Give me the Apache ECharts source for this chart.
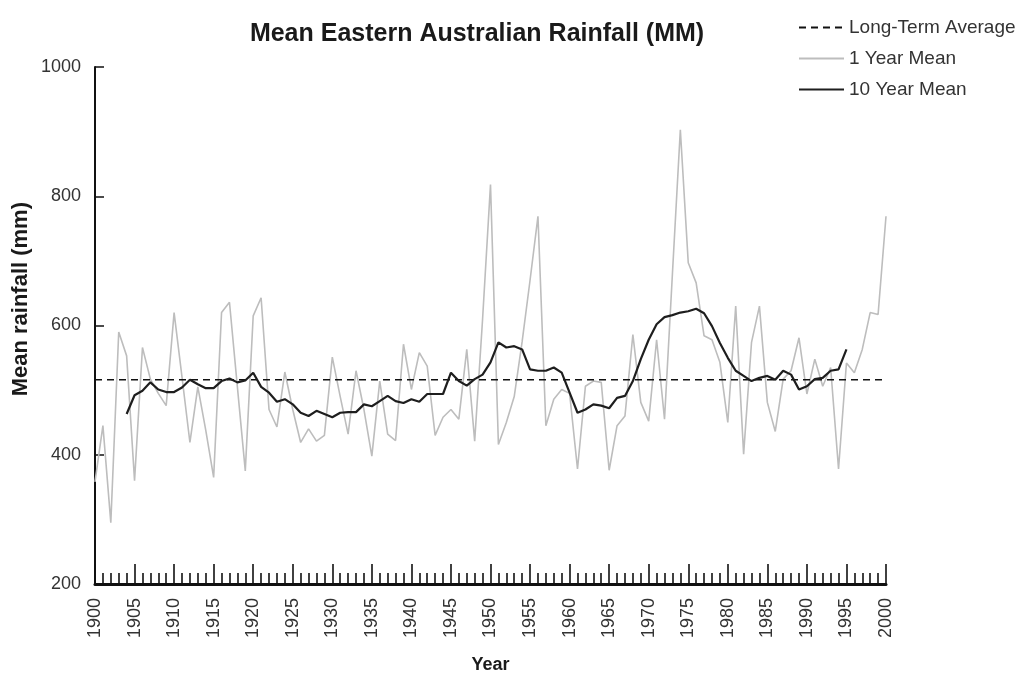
<!DOCTYPE html>
<html>
<head>
<meta charset="utf-8">
<script src="https://cdn.jsdelivr.net/npm/echarts@6/dist/echarts.min.js"></script>
<style>html,body{margin:0;padding:0;background:#fff}#c{width:1034px;height:673px}</style>
</head>
<body>
<div id="c"></div>
<script>
const startYear = 1900;
const endYear = 2000;
const longTermAverage = 516;
const oneYearMean = [
  358, 445, 295, 590, 553, 360, 566, 517, 495, 476,
  620, 520, 419, 505, 438, 365, 620, 636, 505, 375,
  615, 643, 470, 443, 528, 470, 419, 440, 421, 430,
  551, 490, 432, 530, 470, 398, 514, 432, 422, 571,
  501, 558, 537, 430, 458, 470, 455, 563, 421, 610,
  818, 416, 450, 490, 575, 670, 769, 445, 486, 501,
  495, 378, 506, 514, 512, 376, 445, 460, 586, 481,
  452, 578, 455, 680, 903, 697, 666, 584, 578, 543,
  450, 630, 401, 574, 630, 481, 436, 517, 530, 581,
  494, 548, 506, 535, 378, 542, 527, 563, 620, 617,
  769
];
const tenYearStart = 1904;
const tenYearMean = [
  463, 492, 499, 512, 501, 497,
  497, 504, 516, 509, 503, 503, 514, 518, 512, 515,
  527, 505, 496, 482, 486, 478, 465, 460, 468, 463,
  458, 465, 466, 466, 478, 475, 483, 491, 483, 480,
  486, 482, 494, 494, 494, 527, 514, 507, 517, 524,
  543, 574, 566, 568, 563, 532, 530, 530, 535, 527,
  496, 465, 470, 478, 476, 472, 488, 491, 514, 548,
  578, 602, 613, 616, 620, 622, 626, 619, 599, 573,
  550, 530, 522, 514, 519, 522, 516, 530, 524, 501,
  506, 517, 519, 530, 532, 563
];
const yTicks = [200, 400, 600, 800, 1000];

const oneYearData = oneYearMean.map((v, i) => [startYear + i, v]);
const tenYearData = tenYearMean.map((v, i) => [tenYearStart + i, v]);
const avgData = [[startYear, longTermAverage], [endYear, longTermAverage]];

const FONT = '"Liberation Sans", Arial, Helvetica, sans-serif';
const chart = echarts.init(document.getElementById('c'), null, {renderer: 'canvas'});
chart.setOption({
  animation: false,
  backgroundColor: '#fff',
  textStyle: {fontFamily: FONT},
  title: {
    text: 'Mean Eastern Australian Rainfall (MM)',
    left: 472, top: 17, textAlign: 'center',
    textStyle: {fontFamily: FONT, fontSize: 25, fontWeight: 'bold', color: '#1a1a1a'}
  },
  legend: {
    orient: 'vertical', left: 793, top: 13,
    itemWidth: 45, itemHeight: 18, itemGap: 12,
    itemStyle: {opacity: 0},
    textStyle: {fontFamily: FONT, fontSize: 19, color: '#333'},
    data: ['Long-Term Average', '1 Year Mean', '10 Year Mean']
  },
  grid: {left: 95, right: 148, top: 67, bottom: 89, outerBoundsMode: 'none', containLabel: false},
  xAxis: {
    type: 'value', min: startYear, max: endYear, interval: 5,
    name: 'Year', nameLocation: 'middle', nameGap: 72,
    nameTextStyle: {fontFamily: FONT, fontSize: 18, fontWeight: 'bold', color: '#1a1a1a'},
    axisLine: {show: true, onZero: false, lineStyle: {color: '#111', width: 3}},
    axisTick: {show: true, inside: true, length: 20, lineStyle: {color: '#111', width: 1.6}},
    minorTick: {show: true, splitNumber: 5, length: 11, lineStyle: {color: '#111', width: 1.6}},
    axisLabel: {rotate: 90, margin: 14, fontSize: 18, color: '#333', fontFamily: FONT,
      formatter: v => String(v)},
    splitLine: {show: false}
  },
  yAxis: {
    type: 'value', min: yTicks[0], max: yTicks[yTicks.length - 1], interval: 200,
    axisLine: {show: true, lineStyle: {color: '#111', width: 2}},
    axisTick: {show: true, inside: true, length: 9, lineStyle: {color: '#111', width: 1.5}},
    axisLabel: {margin: 14, fontSize: 18, color: '#333', fontFamily: FONT,
      formatter: v => String(v)},
    splitLine: {show: false}
  },
  graphic: [{
    type: 'text', left: 10, top: 202, rotation: Math.PI / 2,
    style: {text: 'Mean rainfall (mm)', fontFamily: FONT, fontSize: 22, fontWeight: 'bold', fill: '#1a1a1a'}
  }],
  series: [
    {
      name: 'Long-Term Average', type: 'line', data: avgData, symbol: 'none', z: 3,
      lineStyle: {color: '#111', width: 1.5, type: [7, 5]}, itemStyle: {color: '#111'}
    },
    {
      name: '1 Year Mean', type: 'line', data: oneYearData, symbol: 'none', z: 2,
      lineStyle: {color: '#bdbdbd', width: 1.6}, itemStyle: {color: '#bdbdbd'}
    },
    {
      name: '10 Year Mean', type: 'line', data: tenYearData, symbol: 'none', z: 4,
      lineStyle: {color: '#1e1e1e', width: 2.2}, itemStyle: {color: '#1e1e1e'}
    }
  ]
});
</script>
</body>
</html>
